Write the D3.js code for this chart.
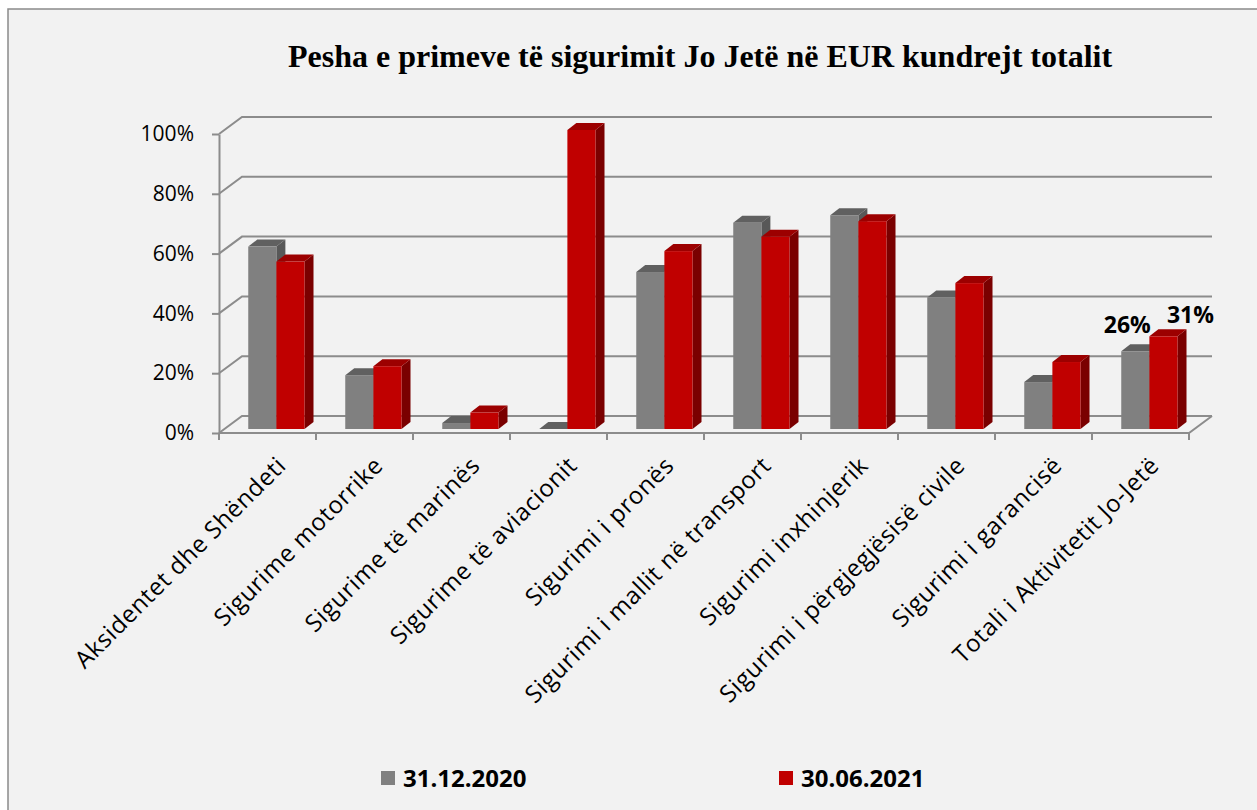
<!DOCTYPE html>
<html>
<head>
<meta charset="utf-8">
<style type="text/css">
body { margin: 0; background: #ffffff; }
.grid { stroke: #8c8c8c; stroke-width: 2; fill: none; }
.tick line, .domain { stroke: #8c8c8c; stroke-width: 2; }
.ylab { font-family: "Open Sans", sans-serif; font-size: 21px; fill: #000; }
.xlab { font-family: "Open Sans", sans-serif; font-size: 24px; letter-spacing: 0.6px; fill: #000; }
.title { font-family: "Liberation Serif", serif; font-weight: bold; font-size: 32px; fill: #000; }
.legend { font-family: "Open Sans", sans-serif; font-weight: bold; font-size: 24px; fill: #000; }
.dlabel { font-family: "Open Sans", sans-serif; font-weight: bold; font-size: 23px; fill: #000; }
</style>
<script src="https://d3js.org/d3.v7.min.js"></script>
</head>
<body>
<script type="text/javascript">
var width  = 1257;
var height = 810;

var categories = ["Aksidentet dhe Shëndeti", "Sigurime motorrike", "Sigurime të marinës",
	"Sigurime të aviacionit", "Sigurimi i pronës", "Sigurimi i mallit në transport",
	"Sigurimi inxhinjerik", "Sigurimi i përgjegjësisë civile", "Sigurimi i garancisë",
	"Totali i Aktivitetit Jo-Jetë"];
var seriesNames = ["31.12.2020", "30.06.2021"];
var values2020 = [0.61, 0.18, 0.02, 0.00, 0.525, 0.69, 0.715, 0.44, 0.157, 0.26];
var values2021 = [0.56, 0.21, 0.055, 1.00, 0.595, 0.643, 0.695, 0.488, 0.224, 0.31];
var yTicks = [0, 0.2, 0.4, 0.6, 0.8, 1];
var labelIndex = 9; // only the total has value labels

var colors = { front: ["#808080", "#c00000"], top: ["#606060", "#9c0000"], side: ["#585858", "#7a0000"] };

// 3d offsets: depth of the floor, bar front offset, bar depth
var depth = { x: 23, y: -17 };
var barOff = { x: 5, y: -4 };
var barDepth = { x: 9, y: -7 };

var svg = d3.select("body").append("svg").attr("width", width).attr("height", height);

svg.append("rect").attr("x", 8).attr("y", 9).attr("width", width).attr("height", height)
	.attr("fill", "#f2f2f2").attr("stroke", "#8a8a8a").attr("stroke-width", 1.5);

svg.append("text").attr("class", "title").attr("x", 700).attr("y", 67)
	.attr("text-anchor", "middle").text("Pesha e primeve të sigurimit Jo Jetë në EUR kundrejt totalit");

var x0 = d3.scaleBand().domain(categories).range([219, 1189]);
var x1 = d3.scaleBand().domain(seriesNames).range([x0.bandwidth() * 0.25, x0.bandwidth() * 0.83]);
var y = d3.scaleLinear().domain([0, 1]).range([433, 134]);

// side wall + back wall gridlines
var g = svg.append("g");
yTicks.forEach(function(t) {
	var x = x0.range()[0], yy = y(t);
	g.append("path").attr("class", "grid")
		.attr("d", "M" + x + "," + yy + "L" + (x + depth.x) + "," + (yy + depth.y) +
			"L" + (x0.range()[1] + depth.x) + "," + (yy + depth.y));
});
// floor front edge and right edge
g.append("path").attr("class", "grid")
	.attr("d", "M" + x0.range()[0] + "," + y(0) + "L" + x0.range()[1] + "," + y(0) +
		"L" + (x0.range()[1] + depth.x) + "," + (y(0) + depth.y));

// y axis
var yAxis = d3.axisLeft(y).tickValues(yTicks).tickFormat(d3.format(".0%")).tickSize(7).tickSizeOuter(0).tickPadding(18);
var ya = svg.append("g").attr("transform", "translate(" + x0.range()[0] + ",0)").call(yAxis);
ya.selectAll("text").attr("class", "ylab").attr("font-size", null).attr("font-family", null);

// category boundary ticks
var bounds = categories.map(function(c) { return x0(c); }).concat([x0.range()[1]]);
svg.append("g").selectAll("line").data(bounds).join("line")
	.attr("class", "grid")
	.attr("x1", function(d) { return d; }).attr("x2", function(d) { return d; })
	.attr("y1", y(0)).attr("y2", y(0) + 7);

// bars
var bars = [];
categories.forEach(function(c, i) {
	bars.push({ cat: c, s: 0, v: values2020[i], i: i });
	bars.push({ cat: c, s: 1, v: values2021[i], i: i });
});
var bg = svg.append("g");
bars.forEach(function(d) {
	var bx = x0(d.cat) + x1(seriesNames[d.s]) + barOff.x;
	var w = x1.bandwidth();
	var yt = y(d.v) + barOff.y;
	var yb = y(0) + barOff.y;
	var dx = barDepth.x, dy = barDepth.y;
	bg.append("path").attr("fill", colors.side[d.s])
		.attr("d", "M" + (bx + w) + "," + yt + "L" + (bx + w + dx) + "," + (yt + dy) +
			"L" + (bx + w + dx) + "," + (yb + dy) + "L" + (bx + w) + "," + yb + "Z");
	bg.append("path").attr("fill", colors.top[d.s])
		.attr("d", "M" + bx + "," + yt + "L" + (bx + dx) + "," + (yt + dy) +
			"L" + (bx + w + dx) + "," + (yt + dy) + "L" + (bx + w) + "," + yt + "Z");
	bg.append("rect").attr("fill", colors.front[d.s])
		.attr("x", bx).attr("y", yt).attr("width", w).attr("height", yb - yt);
	if (d.i === labelIndex) {
		var off = d.s === 0 ? -8 : 27;
		var lift = d.s === 0 ? 18 : 13;
		bg.append("text").attr("class", "dlabel").attr("text-anchor", "middle")
			.attr("x", bx + w / 2 + off).attr("y", yt - lift)
			.text(d3.format(".0%")(d.v));
	}
});

// rotated category labels
svg.append("g").selectAll("text").data(categories).join("text")
	.attr("class", "xlab")
	.attr("text-anchor", "end")
	.attr("transform", function(c) { return "translate(" + (x0(c) + x0.bandwidth() / 2 + 8) + "," + (y(0) + 22) + ") rotate(-45)"; })
	.attr("dy", "0.71em")
	.text(function(c) { return c; });

// legend
var leg = svg.append("g");
var legX = [381, 779];
seriesNames.forEach(function(s, i) {
	leg.append("rect").attr("x", legX[i]).attr("y", 771).attr("width", 14).attr("height", 14)
		.attr("fill", colors.front[i]);
	leg.append("text").attr("class", "legend").attr("x", legX[i] + 22).attr("y", 787).text(s);
});
</script>
</body>
</html>
